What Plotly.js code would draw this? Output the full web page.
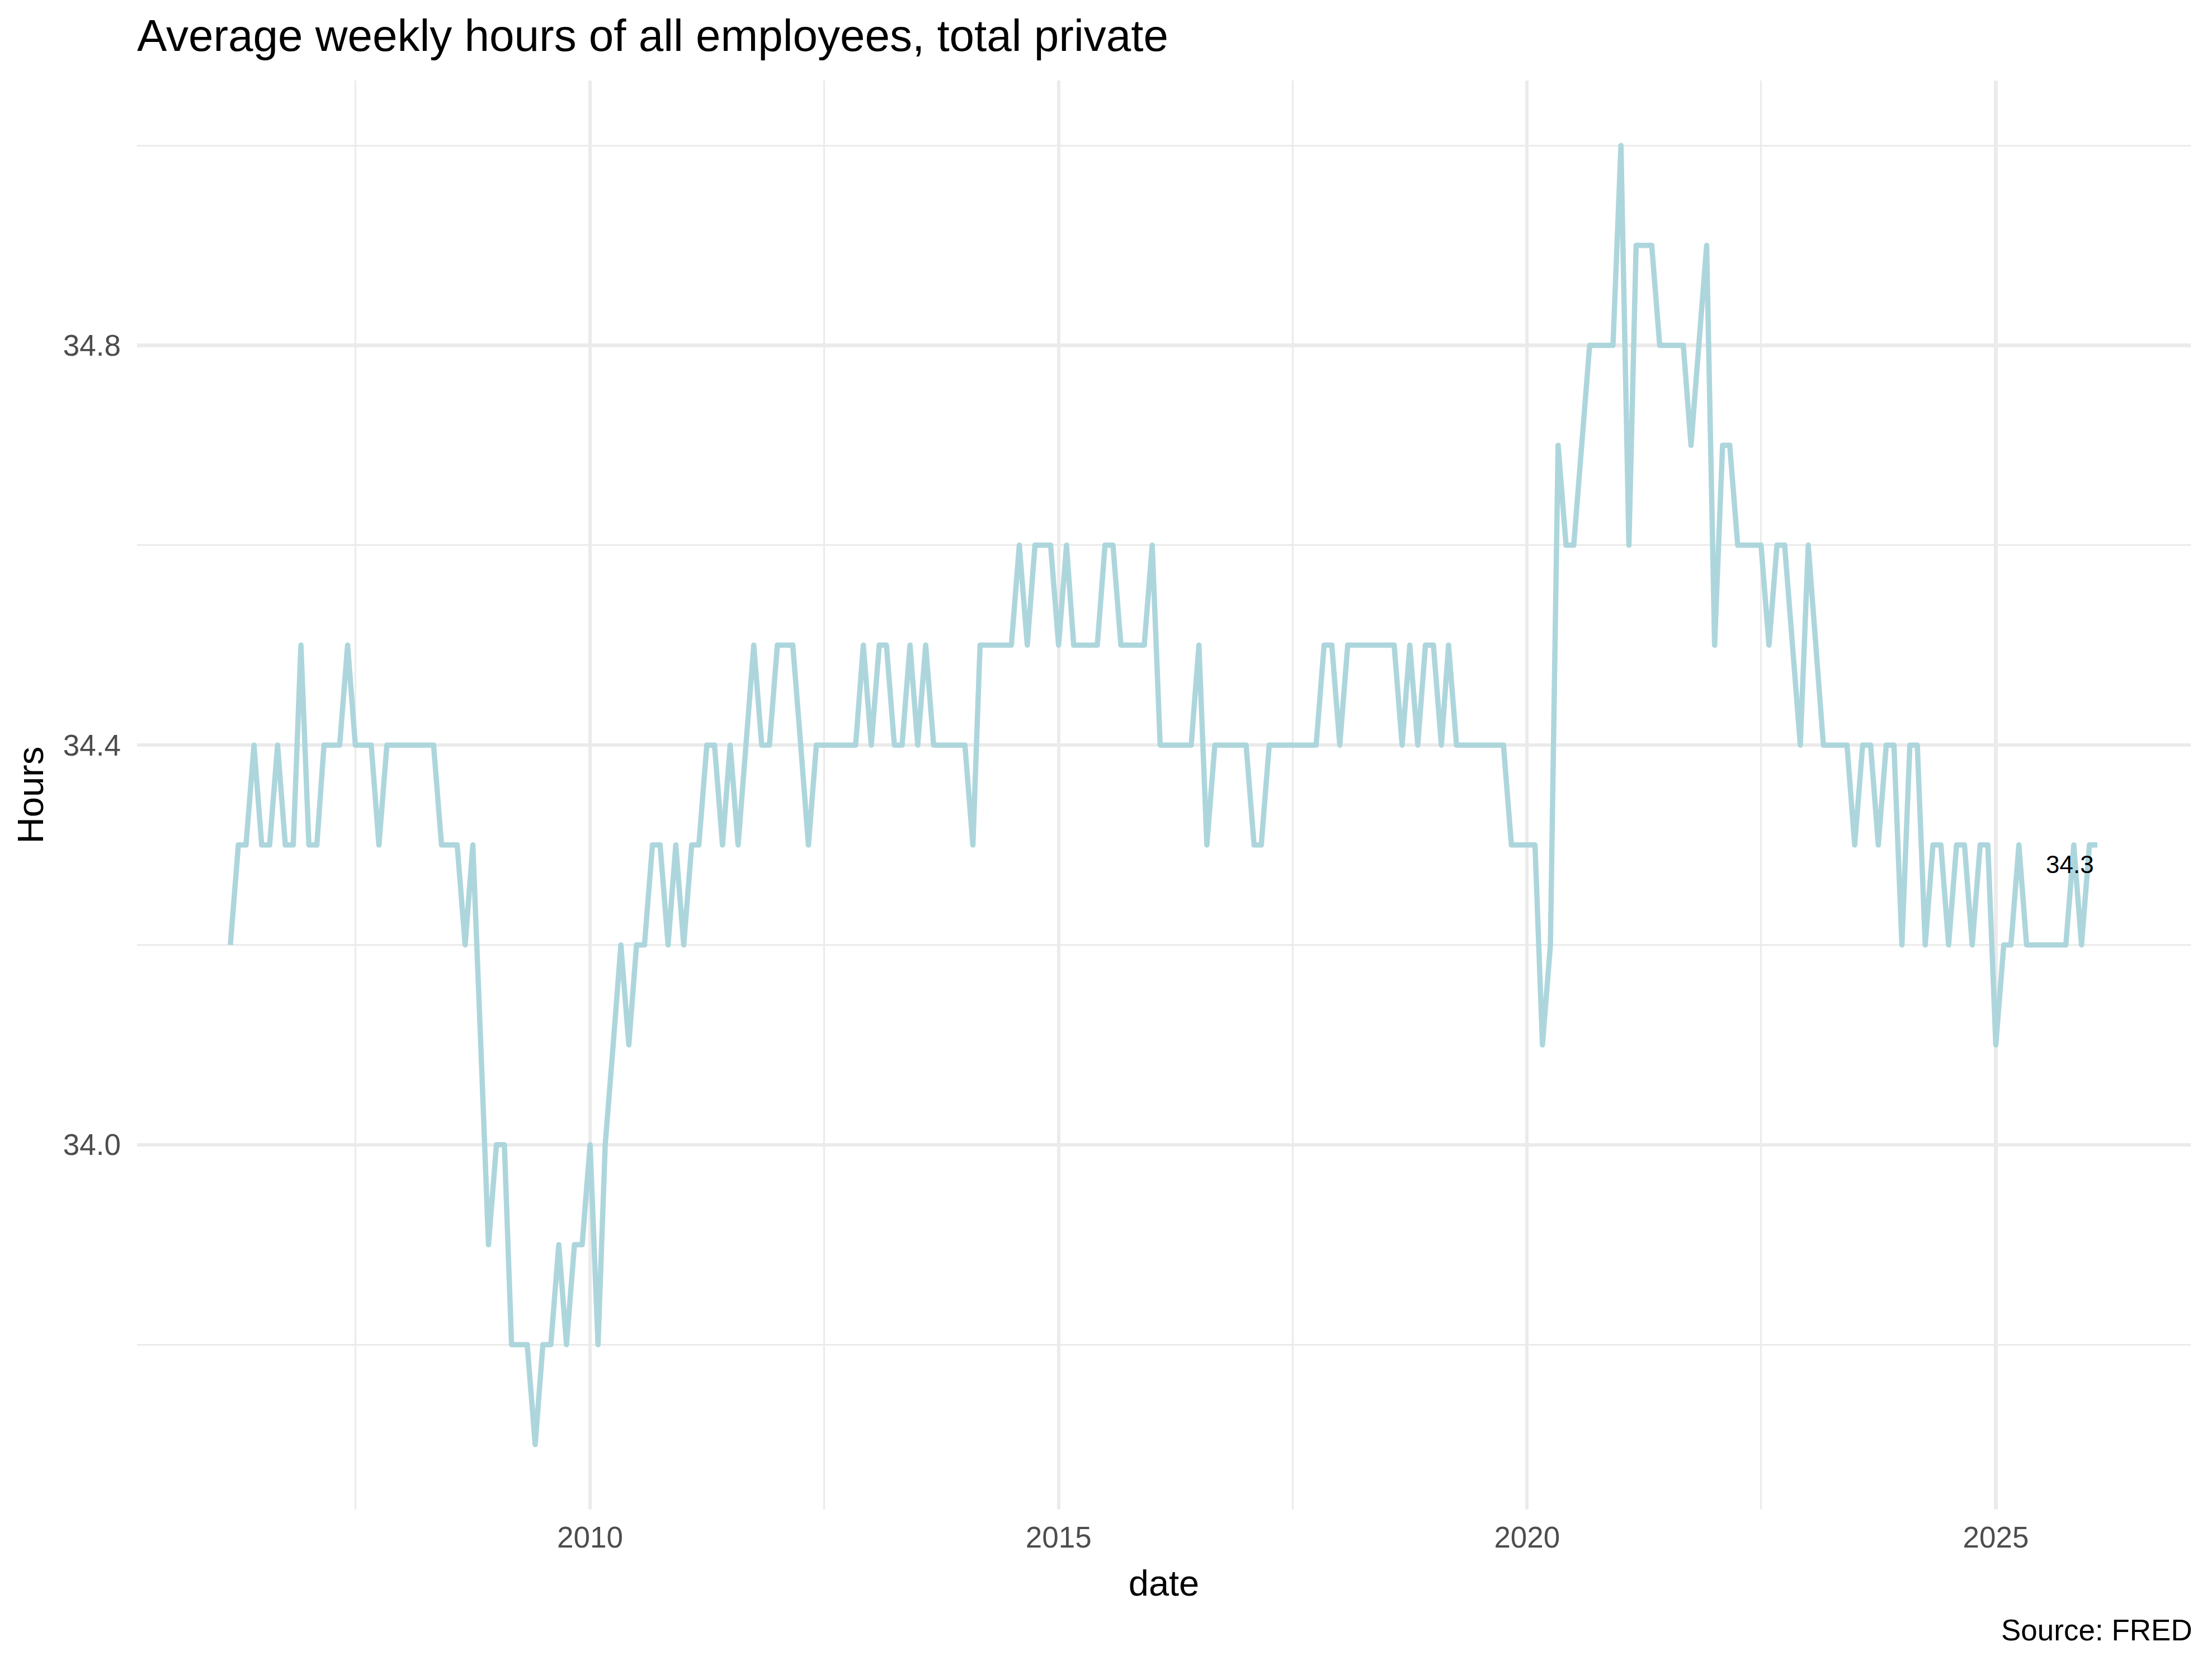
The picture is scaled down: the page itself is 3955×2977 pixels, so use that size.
<!DOCTYPE html>
<html>
<head>
<meta charset="utf-8">
<script src="https://cdn.plot.ly/plotly-3.0.1.min.js"></script>
<style>
html,body{margin:0;padding:0;background:#fff;}
#chart{width:3955px;height:2977px;}
#chart .scatterlayer path.js-line{stroke-linejoin:round;}
</style>
</head>
<body>
<div id="chart"></div>
<script>
// Monthly series, first month = March 2006
var firstMonth = [2006, 3];
var hours2006 = [34.2, 34.3, 34.3, 34.4, 34.3, 34.3, 34.4, 34.3, 34.3, 34.5];
var hours2007 = [34.3, 34.3, 34.4, 34.4, 34.4, 34.5, 34.4, 34.4, 34.4, 34.3, 34.4, 34.4];
var hours2008 = [34.4, 34.4, 34.4, 34.4, 34.4, 34.3, 34.3, 34.3, 34.2, 34.3, 34.1, 33.9];
var hours2009 = [34.0, 34.0, 33.8, 33.8, 33.8, 33.7, 33.8, 33.8, 33.9, 33.8, 33.9, 33.9];
var hours2010 = [34.0, 33.8, 34.0, 34.1, 34.2, 34.1, 34.2, 34.2, 34.3, 34.3, 34.2, 34.3];
var hours2011 = [34.2, 34.3, 34.3, 34.4, 34.4, 34.3, 34.4, 34.3, 34.4, 34.5, 34.4, 34.4];
var hours2012 = [34.5, 34.5, 34.5, 34.4, 34.3, 34.4, 34.4, 34.4, 34.4, 34.4, 34.4, 34.5];
var hours2013 = [34.4, 34.5, 34.5, 34.4, 34.4, 34.5, 34.4, 34.5, 34.4, 34.4, 34.4, 34.4];
var hours2014 = [34.4, 34.3, 34.5, 34.5, 34.5, 34.5, 34.5, 34.6, 34.5, 34.6, 34.6, 34.6];
var hours2015 = [34.5, 34.6, 34.5, 34.5, 34.5, 34.5, 34.6, 34.6, 34.5, 34.5, 34.5, 34.5];
var hours2016 = [34.6, 34.4, 34.4, 34.4, 34.4, 34.4, 34.5, 34.3, 34.4, 34.4, 34.4, 34.4];
var hours2017 = [34.4, 34.3, 34.3, 34.4, 34.4, 34.4, 34.4, 34.4, 34.4, 34.4, 34.5, 34.5];
var hours2018 = [34.4, 34.5, 34.5, 34.5, 34.5, 34.5, 34.5, 34.5, 34.4, 34.5, 34.4, 34.5];
var hours2019 = [34.5, 34.4, 34.5, 34.4, 34.4, 34.4, 34.4, 34.4, 34.4, 34.4, 34.3, 34.3];
var hours2020 = [34.3, 34.3, 34.1, 34.2, 34.7, 34.6, 34.6, 34.7, 34.8, 34.8, 34.8, 34.8];
var hours2021 = [35.0, 34.6, 34.9, 34.9, 34.9, 34.8, 34.8, 34.8, 34.8, 34.7, 34.8, 34.9];
var hours2022 = [34.5, 34.7, 34.7, 34.6, 34.6, 34.6, 34.6, 34.5, 34.6, 34.6, 34.5, 34.4];
var hours2023 = [34.6, 34.5, 34.4, 34.4, 34.4, 34.4, 34.3, 34.4, 34.4, 34.3, 34.4, 34.4];
var hours2024 = [34.2, 34.4, 34.4, 34.2, 34.3, 34.3, 34.2, 34.3, 34.3, 34.2, 34.3, 34.3];
var hours2025 = [34.1, 34.2, 34.2, 34.3, 34.2, 34.2, 34.2, 34.2, 34.2, 34.2, 34.3, 34.2];
var hours2026 = [34.3, 34.3];

var titleText = "Average weekly hours of all employees, total private";
var xTitle = "date";
var yTitle = "Hours";
var captionText = "Source: FRED";

var hours = [].concat(hours2006, hours2007, hours2008, hours2009, hours2010, hours2011,
  hours2012, hours2013, hours2014, hours2015, hours2016, hours2017, hours2018, hours2019,
  hours2020, hours2021, hours2022, hours2023, hours2024, hours2025, hours2026);

function pad2(n){return (n<10?'0':'')+n;}
var dates = hours.map(function(_, i){
  var m = firstMonth[1] - 1 + i;
  var y = firstMonth[0] + Math.floor(m/12);
  return y + '-' + pad2(m % 12 + 1) + '-01';
});

// ggplot-like 5% expansion
function toMs(s){var p=s.split('-');return Date.UTC(+p[0],+p[1]-1,+p[2]);}
var t0 = toMs(dates[0]), t1 = toMs(dates[dates.length-1]);
var tp = 0.05*(t1-t0);
var xr = [new Date(t0-tp).toISOString().slice(0,19).replace('T',' '), new Date(t1+tp).toISOString().slice(0,19).replace('T',' ')];
var ymin = Math.min.apply(null, hours), ymax = Math.max.apply(null, hours);
var yp = 0.05*(ymax-ymin);
var yr = [ymin-yp, ymax+yp];

var FONT = 'Liberation Sans, Arial, Helvetica, sans-serif';
var GRID = '#EBEBEB';

var trace = {
  x: dates, y: hours, type: 'scatter', mode: 'lines',
  line: {color: '#ADD6DC', width: 9.5},
  hoverinfo: 'x+y'
};

var layout = {
  width: 3955, height: 2977,
  margin: {l: 245, r: 38, t: 144, b: 278, pad: 0},
  paper_bgcolor: '#fff', plot_bgcolor: '#fff',
  showlegend: false,
  font: {family: FONT, color: '#000'},
  title: {
    text: titleText, font: {family: FONT, size: 80, color: '#000'},
    xref: 'paper', x: 0, xanchor: 'left',
    yref: 'container', y: 1 - 63/2977, yanchor: 'middle', pad: {t:0,b:0,l:0,r:0}
  },
  xaxis: {
    type: 'date', range: xr,
    tick0: '2010-01-01', dtick: 'M60', tickformat: '%Y',
    ticks: '', ticklabelstandoff: 14,
    tickfont: {family: FONT, size: 53, color: '#4D4D4D'},
    showgrid: true, gridcolor: GRID, gridwidth: 6.3,
    minor: {tick0: '2007-07-01', dtick: 'M30', showgrid: true, gridcolor: GRID, gridwidth: 3.1, ticks: ''},
    zeroline: false, showline: false,
    title: {text: xTitle, font: {family: FONT, size: 65, color: '#000'}, standoff: 30}
  },
  yaxis: {
    range: yr,
    tick0: 34.0, dtick: 0.4, tickformat: '.1f',
    ticks: '', ticklabelstandoff: 28,
    tickfont: {family: FONT, size: 53, color: '#4D4D4D'},
    showgrid: true, gridcolor: GRID, gridwidth: 6.3,
    minor: {tick0: 34.0, dtick: 0.2, showgrid: true, gridcolor: GRID, gridwidth: 3.1, ticks: ''},
    zeroline: false, showline: false,
    title: {text: yTitle, font: {family: FONT, size: 65, color: '#000'}, standoff: 14}
  },
  annotations: [
    {
      x: dates[dates.length-1], y: hours[hours.length-1], xref: 'x', yref: 'y',
      text: hours[hours.length-1].toFixed(1), showarrow: false,
      xanchor: 'right', yanchor: 'top', xshift: -4, yshift: -8,
      font: {family: FONT, size: 44, color: '#000'}
    },
    {
      x: 1, y: -(2914-2699)/2555, xref: 'paper', yref: 'paper',
      text: captionText, showarrow: false, xanchor: 'right', yanchor: 'middle', xshift: 5,
      font: {family: FONT, size: 53, color: '#000'}
    }
  ]
};

Plotly.newPlot('chart', [trace], layout, {displayModeBar: false, staticPlot: true});
</script>
</body>
</html>
